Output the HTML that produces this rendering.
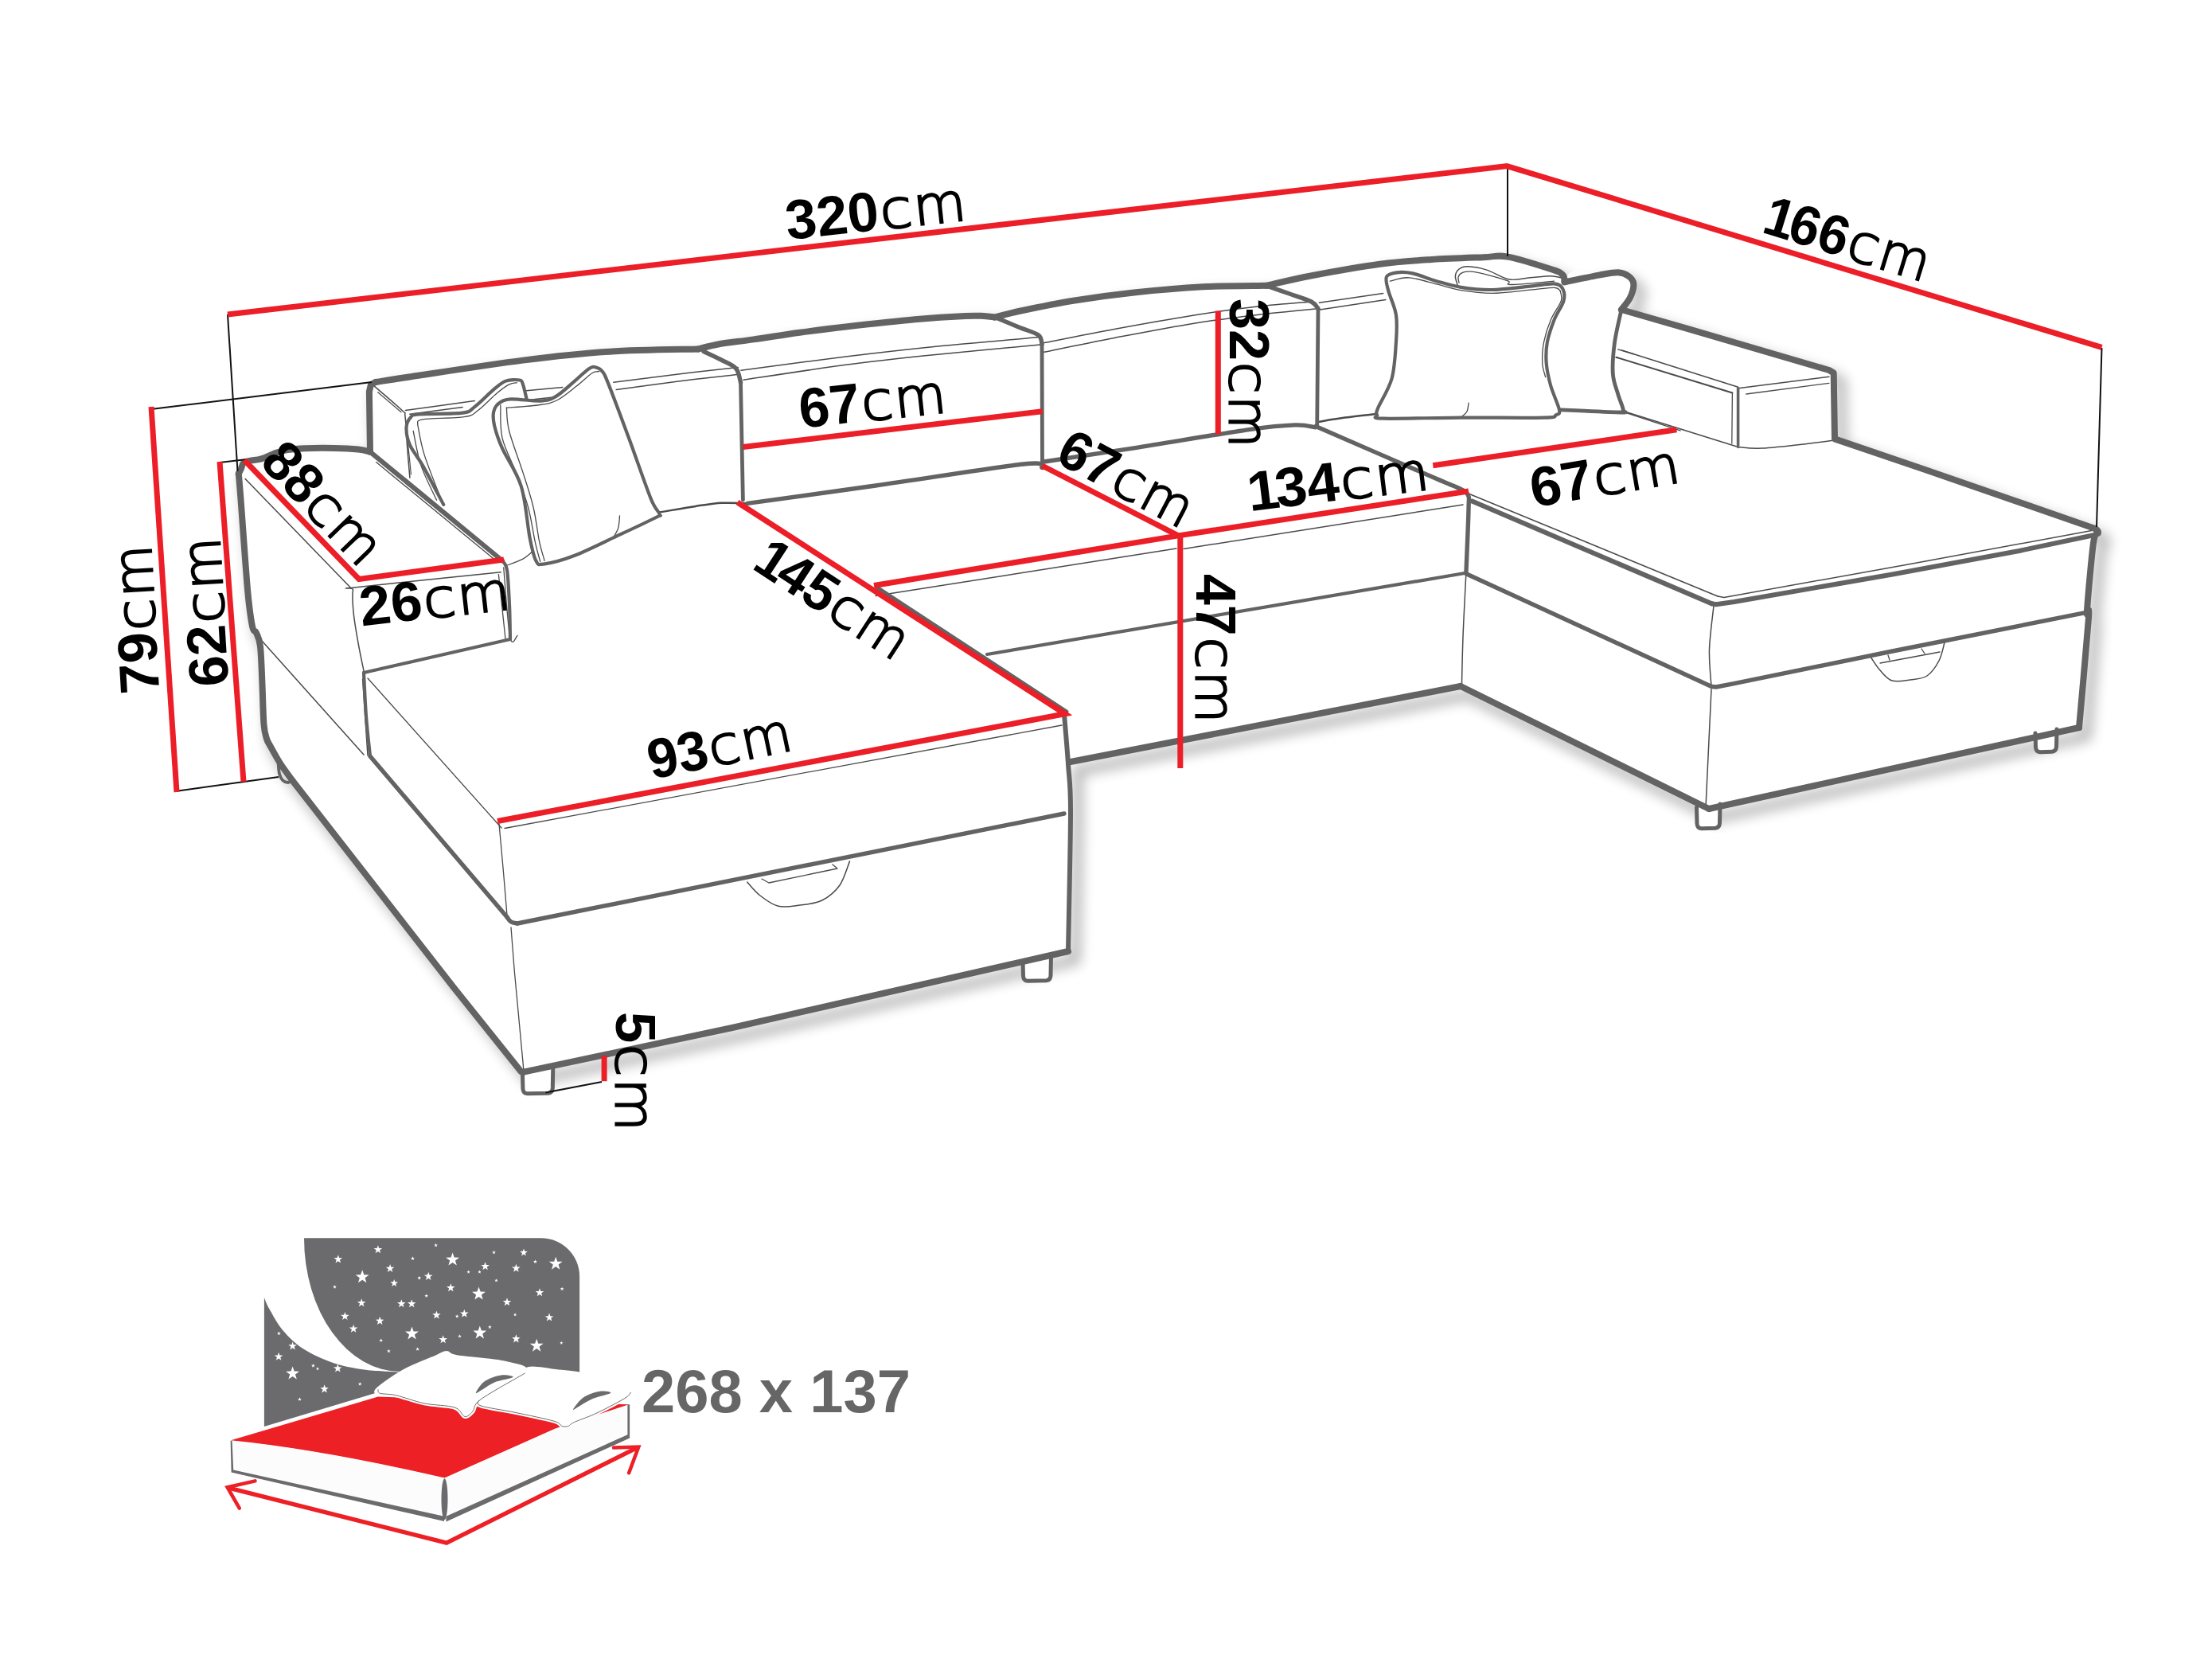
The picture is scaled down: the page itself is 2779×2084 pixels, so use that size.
<!DOCTYPE html>
<html lang="pl"><head><meta charset="utf-8"><title>Wymiary naro&#380;nika</title>
<style>
html,body{margin:0;padding:0;background:#fff}
body{width:2779px;height:2084px;overflow:hidden}
svg{display:block}
.tk{fill:none;stroke:#636363;stroke-linecap:round;stroke-linejoin:round}
.tn{fill:none;stroke:#4a4a4a;stroke-linecap:round;stroke-linejoin:round}
.rd{fill:none;stroke:#ec1e27;stroke-width:7;stroke-linecap:butt;stroke-linejoin:miter}
.bk{fill:none;stroke:#111;stroke-width:2}
.num{font-family:"Liberation Sans",sans-serif;font-weight:700;fill:#000}
.cm{font-family:"DejaVu Sans","Liberation Sans",sans-serif;font-weight:200;fill:#000;stroke:#000;stroke-width:2.2}
.bed{font-family:"Liberation Sans",sans-serif;font-weight:700;fill:#666}
</style></head><body>
<svg width="2779" height="2084" viewBox="0 0 2779 2084">
<defs>
<filter id="sh" x="-5%" y="-5%" width="115%" height="115%"><feGaussianBlur stdDeviation="8"/></filter>
<polygon id="st" points="0,-10 2.35,-3.24 9.51,-3.09 3.8,1.24 5.88,8.09 0,4 -5.88,8.09 -3.8,1.24 -9.51,-3.09 -2.35,-3.24"/>
</defs>
<rect width="2779" height="2084" fill="#fff"/>

<g filter="url(#sh)" opacity="0.27" transform="translate(9,11)" fill="none" stroke="#000" stroke-width="14" stroke-linecap="round" stroke-linejoin="round">
<path d="M367 980 L352.5 959.7 L340 938 L335 928 L331.5 910 L329.5 860 L327 812 L322 795 L317 786.7 L311 740.4 L302.3 624.7 L299.8 595 L302.9 588.9 L305.8 581.7 L313.7 578.8 L323.9 577.4 L332.5 575 L347 568.7 L361.5 565.1 L383.2 563.2 L419.3 562.9 L450 564.5 L465 567.6 L463.9 492 L466 483 L472 480 L516 473.2 L657 452.6 L765.5 441.7 L877.4 438.5 L903.4 432.2 L946.8 426.4 L1004.7 417.7 L1062.5 410.5 L1149.4 401.3 L1213 397 L1236 397 L1250 398.5 L1280 391 L1350 377.5 L1424.7 367.5 L1511.5 360.3 L1591 358.8 L1646.8 346.5 L1733.6 331.8 L1798.7 326 L1863.8 323.2 L1894.2 322.6 L1950.6 338.8 L1963.6 345.5 L1965.5 354.3 L2009 345.6 L2032.8 342.3 L2045.8 346.7 L2052.3 356.4 L2048 373.8 L2037 389 L2120 412.8 L2298 465 L2303.7 468.5 L2305 551.4 L2420 590.5 L2632 664 L2636 669 L2630 682 L2622 767 L2624 776 L2612 914 L2147 1016 L1835 862 L1345 957 L1345 1020 L1342 1195 L920 1291 L657.9 1346.6 Z"/>
</g>
<g fill="#fff" stroke="none">
<path d="M367 980 L352.5 959.7 L340 938 L335 928 L331.5 910 L329.5 860 L327 812 L322 795 L317 786.7 L311 740.4 L302.3 624.7 L299.8 595 L302.9 588.9 L305.8 581.7 L313.7 578.8 L323.9 577.4 L332.5 575 L347 568.7 L361.5 565.1 L383.2 563.2 L419.3 562.9 L450 564.5 L465 567.6 L463.9 492 L466 483 L472 480 L516 473.2 L657 452.6 L765.5 441.7 L877.4 438.5 L903.4 432.2 L946.8 426.4 L1004.7 417.7 L1062.5 410.5 L1149.4 401.3 L1213 397 L1236 397 L1250 398.5 L1280 391 L1350 377.5 L1424.7 367.5 L1511.5 360.3 L1591 358.8 L1646.8 346.5 L1733.6 331.8 L1798.7 326 L1863.8 323.2 L1894.2 322.6 L1950.6 338.8 L1963.6 345.5 L1965.5 354.3 L2009 345.6 L2032.8 342.3 L2045.8 346.7 L2052.3 356.4 L2048 373.8 L2037 389 L2120 412.8 L2298 465 L2303.7 468.5 L2305 551.4 L2420 590.5 L2632 664 L2636 669 L2630 682 L2622 767 L2624 776 L2612 914 L2147 1016 L1835 862 L1345 957 L1345 1020 L1342 1195 L920 1291 L657.9 1346.6 Z"/>
<path d="M557.2 633.8 C535.5 647.9 538.2 597.4 531.1 584.9 C524.1 572.5 518.3 566.8 514.9 558.9 C511.4 550.9 510.3 543 510.5 537.2 C510.7 531.4 513.2 527 516 524.2 C518.7 521.3 516 521.2 526.8 520.3 C537.7 519.4 569.5 520.3 581.1 518.7 C592.6 517.2 589.7 516 596.2 511.1 C602.8 506.3 613.6 494.9 620.1 489.4 C626.6 484 629.9 480.6 635.3 478.6 C640.7 476.6 649.1 476.8 652.7 477.5 C656.3 478.2 655.6 479.1 657 482.9 C658.5 486.7 678 475.2 661.4 500.3 C644.7 525.4 578.9 619.7 557.2 633.8 Z"/>
<path d="M673.3 704.3 C670.4 698.9 668.8 691.6 665.7 676.1 C662.6 660.5 660.6 629.8 654.8 611 C649.1 592.2 636.6 575.9 631 563.2 C625.4 550.6 623 542.6 621.2 535 C619.4 527.4 619.2 522.4 620.1 517.7 C621 513 623 509.5 626.6 506.8 C630.2 504.1 633.1 501.9 641.8 501.4 C650.5 500.8 669.3 504.1 678.7 503.6 C688.1 503 691 502.3 698.2 498.1 C705.5 494 715.2 484.4 722.1 478.6 C729 472.8 735.1 466.3 739.5 463.4 C743.8 460.5 745.3 460.7 748.2 461.2 C751.1 461.8 753.9 462.7 756.8 466.7 C759.7 470.6 759.7 470.5 765.5 485.1 C771.3 499.8 782.9 531 791.6 554.5 C800.2 578.1 811.5 611 817.6 626.2 C823.8 641.4 827.4 641.7 828.5 645.7 C829.5 649.7 832.4 645.7 824.1 650 C815.8 654.4 795.5 663.8 778.5 671.7 C761.5 679.7 738 691.6 722.1 697.8 C706.2 703.9 691.2 707.5 683.1 708.6 C674.9 709.7 676.2 709.7 673.3 704.3 Z"/>
<path d="M1965.5 354.3 C1973.5 326.1 1997.8 347.6 2009 345.6 C2020.2 343.6 2026.7 342.1 2032.8 342.3 C2038.9 342.5 2042.5 344.4 2045.8 346.7 C2049.1 349 2051.9 351.9 2052.3 356.4 C2052.7 360.9 2050.6 368.4 2048 373.8 C2045.5 379.2 2040.2 379.6 2037 389 C2033.8 398.4 2030.3 416.8 2028.5 430.2 C2026.7 443.6 2025.6 458.4 2026.3 469.3 C2027 480.2 2030.6 487.7 2032.8 495.3 C2035 502.9 2038.9 511 2039.3 514.8 C2039.7 518.6 2048 518 2035 518 C2022 518 1972.8 542.1 1961.2 514.8 C1949.6 487.5 1957.5 382.5 1965.5 354.3 Z"/>
<path d="M1742 347.7 C1743.8 343.9 1749.6 343 1755 342.3 C1760.4 341.6 1766.2 341.6 1774.5 343.4 C1782.9 345.2 1794.8 350.3 1804.9 353.2 C1815.1 356.1 1823.7 359 1835.3 360.8 C1846.9 362.6 1859.9 364.2 1874.4 364 C1888.8 363.8 1909.1 360.9 1922.1 359.7 C1935.1 358.4 1945.6 355.9 1952.5 356.4 C1959.4 357 1961.4 359.3 1963.4 362.9 C1965.3 366.6 1966.2 371.6 1964.4 378.1 C1962.6 384.6 1955.9 393.3 1952.5 402 C1949.1 410.7 1945.4 421.2 1943.8 430.2 C1942.2 439.3 1942 447.2 1942.7 456.2 C1943.5 465.3 1945.4 474.7 1948.2 484.5 C1950.9 494.2 1957.9 508.7 1959 514.8 C1960.1 521 1957.9 519.7 1954.7 521.4 C1951.4 523 1959.4 524.1 1939.5 524.6 C1919.6 525.2 1868.9 524.4 1835.3 524.6 C1801.7 524.8 1755.2 526.2 1737.7 525.7 C1720.1 525.2 1731.1 523.5 1730.1 521.4 C1729 519.2 1728.1 520.3 1731.1 512.7 C1734.2 505.1 1744.7 489.5 1748.5 475.8 C1752.3 462 1753 443.6 1753.9 430.2 C1754.8 416.8 1755.6 406.3 1753.9 395.5 C1752.3 384.6 1746.2 373.1 1744.2 365.1 C1742.2 357.1 1740.2 351.5 1742 347.7 Z"/>
</g>
<path class="tn" stroke-width="1.3" d="M636.4 512.2 C643.5 511.6 668 510.2 678.7 508.5 C689.4 506.9 692.8 506.4 700.4 502.5 C708 498.6 717.1 490.7 724.3 485.1 C731.5 479.5 739.1 471.9 743.8 468.8 C748.5 465.8 751.1 467 752.5 466.7"/>
<path class="tn" stroke-width="1.3" d="M636.4 512.2 C636.9 517.1 636.2 528 639.7 541.5 C643.1 555.1 652 577.7 657 593.6 C662.1 609.5 666.6 622.5 670 637 C673.5 651.5 675.3 669.2 677.6 680.4 C680 691.6 683.1 700.3 684.1 704.3"/>
<path class="tn" stroke-width="1.3" d="M628.8 509 C629.2 515.8 627.7 536.1 631 550.2 C634.2 564.3 642.9 579.1 648.3 593.6 C653.8 608.1 659.5 622.5 663.5 637 C667.5 651.5 669.7 669 672.2 680.4 C674.7 691.8 677.6 701.2 678.7 705.4"/>
<path class="tn" stroke-width="1.3" d="M778.5 647.9 C778.3 650.4 777.9 658.9 776.8 663.1 C775.7 667.2 772.8 671.2 772 672.8"/>
<path class="tn" stroke-width="1.3" d="M524.6 532.8 C525.7 531.8 521.4 528.3 531.1 526.8 C540.9 525.3 571.7 525.6 583.2 523.7 C594.8 521.9 593.7 520.5 600.6 515.5 C607.5 510.5 618 499.2 624.5 493.8 C631 488.4 635.5 485.1 639.7 482.9 C643.8 480.8 647.8 481.1 649.4 480.8"/>
<path class="tn" stroke-width="1.3" d="M524.6 532.8 C526.1 539.4 527.9 554.9 533.3 571.9 C538.7 588.9 553.2 624.4 557.2 634.8"/>
<path class="tn" stroke-width="1.3" d="M519.2 541.5 C520.8 548.8 524.1 570.5 529 584.9 C533.9 599.4 545.3 621.1 548.5 628.3"/>
<path class="tn" stroke-width="1.5" d="M470.4 485.1 C476.2 490.2 498.7 509.2 505.1 515.5 C511.5 521.8 507.9 515.5 509 523.1 C510.1 530.7 510.6 548.2 511.6 561.1 C512.6 573.9 514.3 593.6 514.9 600.1"/>
<path class="tn" stroke-width="1.2" d="M474.7 492.7 L504 517.7"/>
<path class="tn" stroke-width="1.2" d="M512.7 558.9 L516.4 595.8"/>
<path class="tn" stroke-width="1.5" d="M509.4 515.5 L596.2 503.6"/>
<path class="tn" stroke-width="1.5" d="M514.9 520.3 L581.1 511.6"/>
<path class="tn" stroke-width="1.5" d="M661.4 490.7 L706.9 486.4"/>
<path class="tn" stroke-width="1.5" d="M663.5 502.5 L692.8 499.2"/>
<path class="tn" stroke-width="1.5" d="M770.9 480.3 C784.5 478.6 827.5 472.9 852.3 469.9 C877.2 466.9 907.7 463.7 920 462.3 C932.3 460.9 925.1 461.6 926.1 461.4"/>
<path class="tn" stroke-width="1.5" d="M774.2 489.4 C787.2 487.7 828 482.1 852.3 479 C876.6 476 907.4 472.7 920 471.2 C932.7 469.8 926.9 470.5 928.3 470.3"/>
<path class="tn" stroke-width="2.5" d="M828.5 643.5 C836.1 642.3 861 637.9 874 635.9 C887 634 896.1 632.4 906.6 631.8 C917.1 631.2 931.9 632.2 937 632.2"/>
<path class="tn" stroke-width="1.3" d="M635.3 710.8 C638.9 709.4 651.6 704.9 657 702.1 C662.4 699.3 666.1 695.2 667.9 693.9"/>
<path class="tn" stroke-width="1.3" d="M472.6 580.6 L624.5 705.4"/>
<path class="tn" stroke-width="1.5" d="M308.1 601.5 L441.2 739"/>
<path class="tn" stroke-width="1.5" d="M629.3 718.7 C599.4 721.8 480.8 733.8 449.9 737.5 C418.9 741.3 444.5 736 443.5 741.3 C442.5 746.6 443 758.4 444.1 769.4 C445.1 780.3 447.7 794.7 449.9 807 C452 819.3 455.9 837.1 457.1 843.1"/>
<path class="tn" stroke-width="1.3" d="M626.4 721.6 L635 802.6"/>
<path class="tn" stroke-width="1.3" d="M632.7 712.9 C634.1 727.5 637.9 786.4 640.8 800.6 C643.7 814.8 648.5 798.7 650.1 798.3"/>
<path class="tn" stroke-width="1.5" d="M325 800.5 L457 948"/>
<path class="tn" stroke-width="1.5" d="M455.6 853 L462 949"/>
<path class="tn" stroke-width="1.3" d="M642 1165 L646.3 1220 L657.9 1344.4"/>
<path class="tn" stroke-width="1.3" d="M627 1035 C627.8 1044.2 630.3 1070.8 632 1090 C633.7 1109.2 636.2 1140 637 1150"/>
<path class="tn" stroke-width="1.3" d="M462 852 L630 1040"/>
<path class="tn" stroke-width="1.3" d="M634 1040.5 L1334 911"/>
<path class="tn" stroke-width="1.5" d="M938.7 1108 C941.4 1110.8 948.5 1120 955 1125 C961.5 1130 969.5 1136.3 977.8 1138.3 C986.1 1140.3 995.8 1138.2 1005 1137 C1014.2 1135.8 1024.5 1135.2 1032.8 1131 C1041.1 1126.8 1049.2 1120.2 1055 1112 C1060.8 1103.8 1065.4 1086.9 1067.5 1081.9"/>
<path class="tn" stroke-width="1.3" d="M957 1104 L966 1109 L1052 1091 L1046 1086"/>
<path class="tn" stroke-width="1.5" d="M2350 825 C2352 827.8 2357.5 837 2362 842 C2366.5 847 2370.7 853 2377 855 C2383.3 857 2392.7 855 2400 854 C2407.3 853 2415 853 2421 849 C2427 845 2432.3 837 2436 830 C2439.7 823 2441.8 810.8 2443 807"/>
<path class="tn" stroke-width="1.3" d="M2362 833 L2437 819"/>
<path class="tn" stroke-width="1.3" d="M2372 823 L2374 829"/>
<path class="tn" stroke-width="1.3" d="M2414 815 L2418 821"/>
<path class="tn" stroke-width="1.5" d="M2183.6 487.7 L2297.9 473.3"/>
<path class="tn" stroke-width="1.3" d="M2193.8 495 L2297.9 481.4"/>
<path class="tn" stroke-width="1.5" d="M2183.6 561.5 C2188.7 561.8 2199.3 563.7 2214 563 C2228.7 562.3 2256.7 558.9 2271.9 557.2 C2287.1 555.5 2299.6 553.6 2305.2 552.8"/>
<path class="tn" stroke-width="2" d="M2030.3 448.7 L2176.4 493.5"/>
<path class="tn" stroke-width="1.5" d="M2037.5 440 L2183.6 486.3"/>
<path class="tn" stroke-width="1.3" d="M2176.4 493.5 L2175.8 557.2"/>
<path class="tn" stroke-width="1.5" d="M2040.4 516.7 L2183.6 561.5"/>
<path class="tn" stroke-width="1.5" d="M2032.8 438.9 L2052.3 444.7"/>
<path class="tn" stroke-width="1.5" d="M2041.5 518.1 L2110.9 540.9"/>
<path class="tn" stroke-width="1.3" d="M1746.3 353.2 C1750.3 352.4 1760.4 348.2 1770.2 348.8 C1780 349.4 1794.1 354.2 1804.9 356.9 C1815.8 359.5 1823.7 362.8 1835.3 364.7 C1846.9 366.6 1859.9 368.4 1874.4 368.4 C1888.8 368.3 1909.1 365.4 1922.1 364.2 C1935.1 363.1 1946.2 361.3 1952.5 361.4 C1958.8 361.6 1958.8 364.5 1960.1 365.1"/>
<path class="tn" stroke-width="1.3" d="M1960.1 365.1 C1960.3 367.3 1963.2 372 1961.2 378.1 C1959.2 384.3 1951.8 393.3 1948.2 402 C1944.5 410.7 1941.2 421.2 1939.5 430.2 C1937.7 439.3 1937.4 449 1937.7 456.2 C1938.1 463.5 1941 470.7 1941.6 473.6"/>
<path class="tn" stroke-width="1.3" d="M1845.1 506.2 C1844.7 508 1844.4 514.1 1842.9 517 C1841.5 519.9 1837.5 522.4 1836.4 523.5"/>
<path class="tn" stroke-width="1.5" d="M1831 357.5 C1830.5 355.7 1828 349.9 1828.4 346.7 C1828.7 343.4 1830.5 340 1833.1 338 C1835.7 336 1838.2 334.5 1844 334.7 C1849.8 334.9 1859.2 336.3 1867.9 339.1 C1876.5 341.8 1887 349.4 1896.1 351 C1905.1 352.6 1913.4 349.6 1922.1 348.8 C1930.8 348.1 1941.6 346.7 1948.2 346.7 C1954.7 346.7 1959 348.5 1961.2 348.8"/>
<path class="tn" stroke-width="1.3" d="M1833.1 355.3 C1833 354.1 1831.3 349.9 1832.1 347.7 C1832.8 345.6 1834.8 343.4 1837.5 342.3 C1840.2 341.2 1842.9 340.7 1848.3 341.2 C1853.8 341.8 1862.3 343.6 1870 345.6 C1877.8 347.6 1890.3 351.2 1895 353.2 C1899.7 355.2 1888.7 357.5 1898.2 357.5 C1907.8 357.5 1943.5 353.9 1952.5 353.2"/>
<path class="tn" stroke-width="1.5" d="M1657.4 380.3 L1737.7 368.4"/>
<path class="tn" stroke-width="1.5" d="M1658.4 389 L1740.9 376.4"/>
<path class="tn" stroke-width="2.5" d="M1655.2 530 C1661 529.1 1678 526.2 1689.9 524.6 C1701.8 523 1720.7 521 1726.8 520.3"/>
<path class="tn" stroke-width="1.5" d="M1846 620.5 L2158 749"/>
<path class="tn" stroke-width="1.5" d="M2158 749 L2166 750.5 L2400 708.5 L2628 666.5"/>
<path class="tn" stroke-width="1.5" d="M2153 761 C2152.1 770.2 2148 799.1 2147.5 816 C2147 832.9 2149.6 854.8 2150 862.5"/>
<path class="tn" stroke-width="1.5" d="M2150 866 L2143 1014"/>
<path class="tn" stroke-width="1.5" d="M1842 717.8 C1841.3 731.5 1838.9 775.9 1838 800 C1837.1 824.1 1836.7 852.1 1836.4 862.5"/>
<path class="tn" stroke-width="1.5" d="M1100 748.5 L1478 689"/>
<path class="tn" stroke-width="1.5" d="M1487 689.5 L1838 634"/>
<path class="tn" stroke-width="1.5" d="M931 465.3 C952.9 462.4 1021.3 453.1 1062.5 448.1 C1103.7 443.1 1137.7 439.2 1178.3 435.1 C1218.9 431 1284.7 425.4 1306 423.5"/>
<path class="tn" stroke-width="1.5" d="M934 477.3 C955.4 474.1 1021.8 463.7 1062.5 458.3 C1103.2 452.9 1137.5 449.4 1178.3 445.2 C1219 441 1285.5 435.1 1307 433.1"/>
<path class="tn" stroke-width="1.5" d="M1311.4 430.8 C1326.2 427.9 1368.6 419.3 1400 413.5 C1431.4 407.7 1470 400.8 1500 396 C1530 391.2 1555.3 387.8 1580 385 C1604.7 382.2 1636.7 380 1648 379"/>
<path class="tn" stroke-width="1.5" d="M1311.4 442.3 C1326.2 439.3 1368.6 430.5 1400 424.5 C1431.4 418.5 1470 411 1500 406.2 C1530 401.4 1554.5 398.5 1580 395.5 C1605.5 392.5 1640.8 389.2 1653 388"/>
<path d="M656.4 1347 L656.9 1367.5 Q657.2 1373.5 662.4 1373.8 L688.8 1373.2 Q694 1372.9 694.3 1366.9 L694.8 1340" fill="#fff" stroke="#636363" stroke-width="5" stroke-linejoin="round" stroke-linecap="round"/>
<path d="M1285 1207 L1285.5 1226 Q1285.8 1232 1291 1232.3 L1314.5 1231.7 Q1319.7 1231.4 1320 1225.4 L1320.5 1199" fill="#fff" stroke="#636363" stroke-width="5" stroke-linejoin="round" stroke-linecap="round"/>
<path d="M2131.5 1014 L2132 1034.5 Q2132.3 1040.5 2137.5 1040.8 L2155 1040.2 Q2160.2 1039.9 2160.5 1033.9 L2161 1010" fill="#fff" stroke="#636363" stroke-width="5" stroke-linejoin="round" stroke-linecap="round"/>
<path d="M2557 921 L2557.5 938.5 Q2557.8 944.5 2563 944.8 L2578 944.2 Q2583.2 943.9 2583.5 937.9 L2584 916" fill="#fff" stroke="#636363" stroke-width="5" stroke-linejoin="round" stroke-linecap="round"/>
<path class="tk" stroke-width="8" d="M367 980 C364.6 976.6 357 966.7 352.5 959.7 C348 952.7 342.9 943.3 340 938 C337.1 932.7 336.4 932.7 335 928 C333.6 923.3 332.4 921.3 331.5 910 C330.6 898.7 330.2 876.3 329.5 860 C328.8 843.7 328.2 822.8 327 812 C325.8 801.2 323.7 799.2 322 795 C320.3 790.8 318.8 795.8 317 786.7 C315.2 777.6 313.4 767.4 311 740.4 C308.6 713.4 304.2 648.9 302.3 624.7 C300.4 600.5 300.2 600 299.8 595"/>
<path class="tk" stroke-width="8" d="M299.8 595 C300.3 594 301.9 591.1 302.9 588.9 C303.9 586.7 304 583.4 305.8 581.7 C307.6 580 310.7 579.5 313.7 578.8 C316.7 578.1 320.8 578 323.9 577.4 C327 576.8 328.6 576.5 332.5 575 C336.4 573.5 342.2 570.4 347 568.7 C351.8 567.1 355.5 566 361.5 565.1 C367.5 564.2 373.6 563.6 383.2 563.2 C392.8 562.8 408.2 562.7 419.3 562.9 C430.4 563.1 442.4 563.7 450 564.5 C457.6 565.3 462.5 567.1 465 567.6"/>
<path class="tk" stroke-width="8" d="M465 567.6 L463.9 492 L466 483 L472 480"/>
<path class="tk" stroke-width="8" d="M472 480 C479.3 478.9 485.2 477.8 516 473.2 C546.8 468.6 615.4 457.9 657 452.6 C698.6 447.4 728.8 444.1 765.5 441.7 C802.2 439.3 858.8 439 877.4 438.5"/>
<path class="tk" stroke-width="8" d="M877.4 438.5 C881.7 437.4 891.8 434.2 903.4 432.2 C915 430.2 929.9 428.8 946.8 426.4 C963.7 424 985.4 420.3 1004.7 417.7 C1024 415.1 1038.4 413.2 1062.5 410.5 C1086.6 407.8 1124.3 403.6 1149.4 401.3 C1174.5 399.1 1198.6 397.7 1213 397 C1227.4 396.3 1229.8 396.8 1236 397 C1242.2 397.2 1247.7 398.2 1250 398.5"/>
<path class="tk" stroke-width="8" d="M1250 398.5 C1255 397.2 1263.3 394.5 1280 391 C1296.7 387.5 1325.9 381.4 1350 377.5 C1374.1 373.6 1397.8 370.4 1424.7 367.5 C1451.6 364.6 1483.8 361.8 1511.5 360.3 C1539.2 358.9 1577.8 359.1 1591 358.8"/>
<path class="tk" stroke-width="8" d="M1591 358.8 C1600.3 356.8 1623 351 1646.8 346.5 C1670.6 342 1708.3 335.2 1733.6 331.8 C1758.9 328.4 1777 327.4 1798.7 326 C1820.4 324.6 1847.9 323.8 1863.8 323.2 C1879.7 322.6 1879.7 320 1894.2 322.6 C1908.7 325.2 1939 335 1950.6 338.8 C1962.2 342.6 1961.1 342.9 1963.6 345.5 C1966.1 348.1 1965.2 352.8 1965.5 354.3"/>
<path class="tk" stroke-width="8" d="M1965.5 354.3 C1972.8 352.9 1997.8 347.6 2009 345.6 C2020.2 343.6 2026.7 342.1 2032.8 342.3 C2038.9 342.5 2042.5 344.4 2045.8 346.7 C2049.1 349 2051.9 351.9 2052.3 356.4 C2052.7 360.9 2050.6 368.4 2048 373.8 C2045.5 379.2 2038.8 386.5 2037 389"/>
<path class="tk" stroke-width="8" d="M2037 389 L2120 412.8 L2298 465 L2303.7 468.5 L2305 551.4 L2420 590.5 L2632 664"/>
<path class="tk" stroke-width="8" d="M2632 664 C2632.7 664.8 2636.3 666 2636 669 C2635.7 672 2632.3 665.7 2630 682 C2627.7 698.3 2623 751.3 2622 767 C2621 782.7 2625.7 751.5 2624 776 C2622.3 800.5 2614 891 2612 914"/>
<path class="tk" stroke-width="8" d="M2612 914 L2147 1016"/>
<path class="tk" stroke-width="8" d="M2147 1016 L1835 862"/>
<path class="tk" stroke-width="8" d="M1835 862 L1345 957"/>
<path class="tk" stroke-width="6" d="M1337 897 C1337.8 907.5 1340.7 939.5 1342 960 C1343.3 980.5 1345 980.8 1345 1020 C1345 1059.2 1342.5 1165.8 1342 1195"/>
<path class="tk" stroke-width="8" d="M1342 1195 L920 1291 L657.9 1346.6"/>
<path class="tk" stroke-width="8" d="M657.9 1346.6 L654.5 1346 L569.6 1240 L367 980"/>
<path class="tk" stroke-width="6" d="M465 567.6 L631 704.3"/>
<path class="tk" stroke-width="4.2" d="M631 704.3 C632 706.2 635.5 706.7 637 716 C638.5 725.3 639.3 745.5 640 760 C640.7 774.5 640.8 795.8 641 803"/>
<path class="tk" stroke-width="4" d="M457 845 L641 803"/>
<path class="tk" stroke-width="4.2" d="M457 845 C457.5 854.2 458.7 882.5 460 900 C461.3 917.5 464.2 941.7 465 950"/>
<path class="tk" stroke-width="5.4" d="M465 950 L637 1152"/>
<path class="tk" stroke-width="5.4" d="M637 1152 C637.8 1153 639.8 1156.7 642 1158 C644.2 1159.3 648.7 1159.7 650 1160"/>
<path class="tk" stroke-width="5.4" d="M650 1160 L1337 1022"/>
<path class="tk" stroke-width="4.8" d="M1102 738 L1340 894"/>
<path class="tk" stroke-width="5.4" d="M884 441.5 C887.7 443.2 899.2 448.4 906 452 C912.8 455.6 920.6 458.2 924.7 463 C928.8 467.8 929.5 477.6 930.5 480.5"/>
<path class="tk" stroke-width="4.8" d="M930.5 480.5 L933.4 628"/>
<path class="tk" stroke-width="5.4" d="M1250 398.5 C1255 400.6 1270.9 407.2 1280 411 C1289.1 414.8 1299.8 417.4 1304.6 421 C1309.4 424.6 1308.3 430.7 1309 432.6"/>
<path class="tk" stroke-width="4.8" d="M1309 432.6 L1309.5 584.7"/>
<path class="tk" stroke-width="5.4" d="M1591 359 C1595.8 360.7 1610.6 365.7 1620 369 C1629.4 372.3 1641.5 375.9 1647.5 379 C1653.5 382.1 1654.6 386.2 1656 387.7"/>
<path class="tk" stroke-width="4.8" d="M1656 387.7 L1654.7 534"/>
<path class="tk" stroke-width="5.4" d="M939 632.4 C965.8 628.7 1042.2 618.2 1100 610 C1157.8 601.8 1251.1 586.7 1286 583 C1320.9 579.3 1305.6 586.8 1309.5 587.6"/>
<path class="tk" stroke-width="5.4" d="M1311.8 580 C1330.6 577.1 1381.8 569.5 1424.7 562.8 C1467.6 556.1 1535.7 544.4 1569.4 539.6 C1603.1 534.8 1613.1 534.4 1627 533.9 C1640.9 533.4 1648.7 536.3 1653 536.8"/>
<path class="tk" stroke-width="5.4" d="M1653 535.5 C1678.3 546.5 1775.3 588.8 1805 601.6 C1834.7 614.4 1824.5 609.2 1831 612.5 C1837.5 615.8 1841.7 616.6 1844 621.2 C1846.3 625.8 1845.3 623.9 1845 640 C1844.7 656.1 1842.5 704.8 1842 717.8"/>
<path class="tk" stroke-width="4.2" d="M1240 822 L1840 720"/>
<path class="tk" stroke-width="6" d="M1849.4 629.5 L2150.4 758.3"/>
<path class="tk" stroke-width="6" d="M2150.4 758.3 L2156 759.3 L2178.6 756 L2377.5 721.5 L2536.7 692 L2629 672.5"/>
<path class="tk" stroke-width="5.4" d="M1842 720.7 L2150.4 862.5"/>
<path class="tk" stroke-width="5.4" d="M2150.4 862.5 L2156 863 L2178.6 858.7 L2377.5 818 L2622.3 769.1"/>
<path class="tk" stroke-width="4.2" d="M557.2 633.8 C552.8 625.6 538.2 597.4 531.1 584.9 C524.1 572.5 518.3 566.8 514.9 558.9 C511.4 550.9 510.3 543 510.5 537.2 C510.7 531.4 513.2 527 516 524.2 C518.7 521.3 516 521.2 526.8 520.3 C537.7 519.4 569.5 520.3 581.1 518.7 C592.6 517.2 589.7 516 596.2 511.1 C602.8 506.3 613.6 494.9 620.1 489.4 C626.6 484 629.9 480.6 635.3 478.6 C640.7 476.6 649.1 476.8 652.7 477.5 C656.3 478.2 655.6 479.1 657 482.9 C658.5 486.7 660.6 497.4 661.4 500.3"/>
<path class="tk" stroke-width="4.2" d="M673.3 704.3 C670.4 698.9 668.8 691.6 665.7 676.1 C662.6 660.5 660.6 629.8 654.8 611 C649.1 592.2 636.6 575.9 631 563.2 C625.4 550.6 623 542.6 621.2 535 C619.4 527.4 619.2 522.4 620.1 517.7 C621 513 623 509.5 626.6 506.8 C630.2 504.1 633.1 501.9 641.8 501.4 C650.5 500.8 669.3 504.1 678.7 503.6 C688.1 503 691 502.3 698.2 498.1 C705.5 494 715.2 484.4 722.1 478.6 C729 472.8 735.1 466.3 739.5 463.4 C743.8 460.5 745.3 460.7 748.2 461.2 C751.1 461.8 753.9 462.7 756.8 466.7 C759.7 470.6 759.7 470.5 765.5 485.1 C771.3 499.8 782.9 531 791.6 554.5 C800.2 578.1 811.5 611 817.6 626.2 C823.8 641.4 827.4 641.7 828.5 645.7 C829.5 649.7 832.4 645.7 824.1 650 C815.8 654.4 795.5 663.8 778.5 671.7 C761.5 679.7 738 691.6 722.1 697.8 C706.2 703.9 691.2 707.5 683.1 708.6 C674.9 709.7 676.2 709.7 673.3 704.3 Z"/>
<path class="tk" stroke-width="3.8" d="M349.7 959.7 C349.9 961.8 350.1 968.6 351 972 C351.9 975.4 353.2 978.2 355 980 C356.8 981.8 360 983 362 983 C364 983 366.2 980.5 367 980"/>
<path class="tk" stroke-width="3.6" d="M2183.6 487.7 L2183.6 561.5"/>
<path class="tk" stroke-width="4.8" d="M2037 389 C2035.6 395.9 2030.3 416.8 2028.5 430.2 C2026.7 443.6 2025.6 458.4 2026.3 469.3 C2027 480.2 2030.6 487.7 2032.8 495.3 C2035 502.9 2038.9 511 2039.3 514.8 C2039.7 518.6 2048 518 2035 518 C2022 518 1973.5 515.3 1961.2 514.8"/>
<path class="tk" stroke-width="4.2" d="M1742 347.7 C1743.8 343.9 1749.6 343 1755 342.3 C1760.4 341.6 1766.2 341.6 1774.5 343.4 C1782.9 345.2 1794.8 350.3 1804.9 353.2 C1815.1 356.1 1823.7 359 1835.3 360.8 C1846.9 362.6 1859.9 364.2 1874.4 364 C1888.8 363.8 1909.1 360.9 1922.1 359.7 C1935.1 358.4 1945.6 355.9 1952.5 356.4 C1959.4 357 1961.4 359.3 1963.4 362.9 C1965.3 366.6 1966.2 371.6 1964.4 378.1 C1962.6 384.6 1955.9 393.3 1952.5 402 C1949.1 410.7 1945.4 421.2 1943.8 430.2 C1942.2 439.3 1942 447.2 1942.7 456.2 C1943.5 465.3 1945.4 474.7 1948.2 484.5 C1950.9 494.2 1957.9 508.7 1959 514.8 C1960.1 521 1957.9 519.7 1954.7 521.4 C1951.4 523 1959.4 524.1 1939.5 524.6 C1919.6 525.2 1868.9 524.4 1835.3 524.6 C1801.7 524.8 1755.2 526.2 1737.7 525.7 C1720.1 525.2 1731.1 523.5 1730.1 521.4 C1729 519.2 1728.1 520.3 1731.1 512.7 C1734.2 505.1 1744.7 489.5 1748.5 475.8 C1752.3 462 1753 443.6 1753.9 430.2 C1754.8 416.8 1755.6 406.3 1753.9 395.5 C1752.3 384.6 1746.2 373.1 1744.2 365.1 C1742.2 357.1 1740.2 351.5 1742 347.7 Z"/>
<path class="bk" d="M286 395 L298.5 592"/>
<path class="bk" d="M190 514 L467 480"/>
<path class="bk" d="M276 581 L310 577"/>
<path class="bk" d="M1894 209 L1894 322"/>
<path class="bk" d="M2640.5 437 L2634 662"/>
<path class="bk" d="M220 994 L350 976"/>
<path class="bk" d="M685.4 1372.6 L756 1358.9"/>
<path class="rd" d="M286 395 L1894 208.5"/>
<path class="rd" d="M1892.5 208.3 L2640.5 436.4"/>
<path class="rd" d="M190 511 L222 995"/>
<path class="rd" d="M276 580 L306 982"/>
<path class="rd" d="M307 578 L451 727.5 L633 703"/>
<path class="rd" d="M926.5 631 L1338 896.8 L625 1031.5"/>
<path class="rd" d="M1098 735.5 L1480.3 672.9 L1845 617"/>
<path class="rd" d="M1309.4 585 L1480.3 672.9"/>
<path class="rd" d="M1482.8 670 L1482.8 965"/>
<path class="rd" d="M933.4 561.5 L1309.5 516.7"/>
<path class="rd" d="M1530.3 390.6 L1530.3 545.4"/>
<path class="rd" d="M1800.3 584.7 L2106.4 539.8"/>
<path class="rd" d="M759.1 1326.3 L759.1 1358.2"/>
<g transform="translate(992 301) rotate(-6.3) scale(1.005 1)"><text x="-2.5" y="0" class="num" font-size="70">320<tspan class="cm" font-size="67.2" dx="1.5" textLength="40.5" lengthAdjust="spacingAndGlyphs">c</tspan><tspan class="cm" font-size="67.2" dx="2">m</tspan></text></g>
<g transform="translate(2215.2 292.3) rotate(17.1) scale(0.970 1)"><text x="-4" y="0" class="num" font-size="70"><tspan letter-spacing="-5">1</tspan>66<tspan class="cm" font-size="67.2" dx="1.5" textLength="40.5" lengthAdjust="spacingAndGlyphs">c</tspan><tspan class="cm" font-size="67.2" dx="2">m</tspan></text></g>
<g transform="translate(200 868) rotate(-93.3) scale(1.000 1)"><text x="-2.5" y="0" class="num" font-size="70">79<tspan class="cm" font-size="67.2" dx="1.5" textLength="40.5" lengthAdjust="spacingAndGlyphs">c</tspan><tspan class="cm" font-size="67.2" dx="2">m</tspan></text></g>
<g transform="translate(287 858.5) rotate(-93.5) scale(1.000 1)"><text x="-2.5" y="0" class="num" font-size="70">62<tspan class="cm" font-size="67.2" dx="1.5" textLength="40.5" lengthAdjust="spacingAndGlyphs">c</tspan><tspan class="cm" font-size="67.2" dx="2">m</tspan></text></g>
<g transform="translate(326.5 584) rotate(46) scale(0.980 1)"><text x="-2.5" y="0" class="num" font-size="70">88<tspan class="cm" font-size="67.2" dx="1.5" textLength="40.5" lengthAdjust="spacingAndGlyphs">c</tspan><tspan class="cm" font-size="67.2" dx="2">m</tspan></text></g>
<g transform="translate(456.7 786.1) rotate(-6.5) scale(1.014 1)"><text x="-2.5" y="0" class="num" font-size="70">26<tspan class="cm" font-size="67.2" dx="1.5" textLength="40.5" lengthAdjust="spacingAndGlyphs">c</tspan><tspan class="cm" font-size="67.2" dx="2">m</tspan></text></g>
<g transform="translate(946.3 715.3) rotate(33.1) scale(0.976 1)"><text x="-4" y="0" class="num" font-size="70"><tspan letter-spacing="-5">1</tspan>45<tspan class="cm" font-size="67.2" dx="1.5" textLength="40.5" lengthAdjust="spacingAndGlyphs">c</tspan><tspan class="cm" font-size="67.2" dx="2">m</tspan></text></g>
<g transform="translate(821.5 978.5) rotate(-11.8) scale(0.975 1)"><text x="-2.5" y="0" class="num" font-size="70">93<tspan class="cm" font-size="67.2" dx="1.5" textLength="40.5" lengthAdjust="spacingAndGlyphs">c</tspan><tspan class="cm" font-size="67.2" dx="2">m</tspan></text></g>
<g transform="translate(1008.6 537.5) rotate(-6.2) scale(0.990 1)"><text x="-2.5" y="0" class="num" font-size="70">67<tspan class="cm" font-size="67.2" dx="1.5" textLength="40.5" lengthAdjust="spacingAndGlyphs">c</tspan><tspan class="cm" font-size="67.2" dx="2">m</tspan></text></g>
<g transform="translate(1325.8 580.6) rotate(27.9) scale(0.970 1)"><text x="-2.5" y="0" class="num" font-size="70">67<tspan class="cm" font-size="67.2" dx="1.5" textLength="40.5" lengthAdjust="spacingAndGlyphs">c</tspan><tspan class="cm" font-size="67.2" dx="2">m</tspan></text></g>
<g transform="translate(1574 641.8) rotate(-7) scale(1.035 1)"><text x="-4" y="0" class="num" font-size="70"><tspan letter-spacing="-5">1</tspan>34<tspan class="cm" font-size="67.2" dx="1.5" textLength="40.5" lengthAdjust="spacingAndGlyphs">c</tspan><tspan class="cm" font-size="67.2" dx="2">m</tspan></text></g>
<g transform="translate(1929 637) rotate(-9.8) scale(1.010 1)"><text x="-2.5" y="0" class="num" font-size="70">67<tspan class="cm" font-size="67.2" dx="1.5" textLength="40.5" lengthAdjust="spacingAndGlyphs">c</tspan><tspan class="cm" font-size="67.2" dx="2">m</tspan></text></g>
<g transform="translate(1544.8 377.6) rotate(90) scale(1.000 1)"><text x="-2.5" y="0" class="num" font-size="70">32<tspan class="cm" font-size="67.2" dx="1.5" textLength="40.5" lengthAdjust="spacingAndGlyphs">c</tspan><tspan class="cm" font-size="67.2" dx="2">m</tspan></text></g>
<g transform="translate(1502.8 723.4) rotate(90) scale(1.000 1)"><text x="-2.5" y="0" class="num" font-size="70">47<tspan class="cm" font-size="67.2" dx="1.5" textLength="40.5" lengthAdjust="spacingAndGlyphs">c</tspan><tspan class="cm" font-size="67.2" dx="2">m</tspan></text></g>
<g transform="translate(774 1273.5) rotate(90) scale(1.010 1)"><text x="-2.5" y="0" class="num" font-size="70">5<tspan class="cm" font-size="67.2" dx="1.5" textLength="40.5" lengthAdjust="spacingAndGlyphs">c</tspan><tspan class="cm" font-size="67.2" dx="2">m</tspan></text></g>
<path d="M382 1555.3 L680 1555.3 A48.1 48.1 0 0 1 728.1 1603.4 L728.1 1732.5 L528.1 1762.5 L502.8 1722.9 A120.8 167.6 0 0 1 382 1555.3 Z" fill="#6b6b6d"/>
<path d="M331.9 1630 C333 1632.3 334.2 1637 338.2 1643.9 C342.2 1650.9 348.8 1663.3 355.9 1671.8 C363.1 1680.2 370.7 1687.8 381.3 1694.6 C391.8 1701.3 406.6 1708 419.2 1712.3 C431.9 1716.6 443.7 1718.5 457.2 1720.4 C470.7 1722.2 493.1 1722.9 500.3 1723.4 L533.2 1732.5 L472.4 1749.7 L331.9 1792 Z" fill="#6b6b6d"/>
<g fill="#fff">
<use href="#st" transform="translate(474.9 1569.7) scale(0.557)"/>
<use href="#st" transform="translate(424.8 1581.9) scale(0.557)"/>
<use href="#st" transform="translate(547.6 1564.2) scale(0.253)"/>
<use href="#st" transform="translate(518.5 1580.9) scale(0.253)"/>
<use href="#st" transform="translate(568.6 1582.4) scale(0.886)"/>
<use href="#st" transform="translate(620.5 1573.3) scale(0.253)"/>
<use href="#st" transform="translate(658 1573.5) scale(0.506)"/>
<use href="#st" transform="translate(672.4 1584.9) scale(0.253)"/>
<use href="#st" transform="translate(698.2 1587.5) scale(0.886)"/>
<use href="#st" transform="translate(490.1 1593.5) scale(0.557)"/>
<use href="#st" transform="translate(609.6 1590.8) scale(0.557)"/>
<use href="#st" transform="translate(648.4 1593.3) scale(0.557)"/>
<use href="#st" transform="translate(588.6 1597.8) scale(0.228)"/>
<use href="#st" transform="translate(602.5 1597.8) scale(0.228)"/>
<use href="#st" transform="translate(455.2 1604.2) scale(0.886)"/>
<use href="#st" transform="translate(538.2 1603.4) scale(0.557)"/>
<use href="#st" transform="translate(526.8 1605.4) scale(0.253)"/>
<use href="#st" transform="translate(623.5 1608.5) scale(0.228)"/>
<use href="#st" transform="translate(495.2 1612) scale(0.506)"/>
<use href="#st" transform="translate(420.5 1616.6) scale(0.253)"/>
<use href="#st" transform="translate(566.3 1617.8) scale(0.557)"/>
<use href="#st" transform="translate(706.1 1619.1) scale(0.253)"/>
<use href="#st" transform="translate(601.5 1625.4) scale(0.886)"/>
<use href="#st" transform="translate(678 1623.7) scale(0.557)"/>
<use href="#st" transform="translate(535.7 1627.7) scale(0.253)"/>
<use href="#st" transform="translate(454.2 1636.8) scale(0.557)"/>
<use href="#st" transform="translate(504.3 1637.8) scale(0.557)"/>
<use href="#st" transform="translate(517.2 1637.8) scale(0.557)"/>
<use href="#st" transform="translate(637 1635.8) scale(0.557)"/>
<use href="#st" transform="translate(548.4 1652) scale(0.557)"/>
<use href="#st" transform="translate(583.3 1650.3) scale(0.557)"/>
<use href="#st" transform="translate(574.2 1653.5) scale(0.253)"/>
<use href="#st" transform="translate(647.1 1651.5) scale(0.228)"/>
<use href="#st" transform="translate(433.4 1653.5) scale(0.557)"/>
<use href="#st" transform="translate(690.1 1655.1) scale(0.557)"/>
<use href="#st" transform="translate(477.2 1659.4) scale(0.557)"/>
<use href="#st" transform="translate(615.4 1667) scale(0.253)"/>
<use href="#st" transform="translate(444.1 1669.2) scale(0.557)"/>
<use href="#st" transform="translate(517.5 1675.3) scale(0.886)"/>
<use href="#st" transform="translate(602.8 1674.3) scale(0.886)"/>
<use href="#st" transform="translate(577.5 1678.6) scale(0.228)"/>
<use href="#st" transform="translate(350.4 1675.1) scale(0.253)"/>
<use href="#st" transform="translate(556.7 1682.7) scale(0.557)"/>
<use href="#st" transform="translate(648.4 1681.9) scale(0.557)"/>
<use href="#st" transform="translate(478.7 1683.7) scale(0.253)"/>
<use href="#st" transform="translate(705.3 1687) scale(0.228)"/>
<use href="#st" transform="translate(367.6 1691) scale(0.557)"/>
<use href="#st" transform="translate(674.2 1690.5) scale(0.886)"/>
<use href="#st" transform="translate(524.6 1694.8) scale(0.253)"/>
<use href="#st" transform="translate(488.4 1697.3) scale(0.253)"/>
<use href="#st" transform="translate(350.1 1704.2) scale(0.557)"/>
<use href="#st" transform="translate(393.4 1715.6) scale(0.253)"/>
<use href="#st" transform="translate(399 1719.4) scale(0.228)"/>
<use href="#st" transform="translate(424.3 1719.1) scale(0.557)"/>
<use href="#st" transform="translate(367.6 1725.4) scale(0.886)"/>
<use href="#st" transform="translate(452.2 1738.6) scale(0.253)"/>
<use href="#st" transform="translate(407.6 1744.9) scale(0.557)"/>
<use href="#st" transform="translate(376.5 1757.8) scale(0.253)"/>
</g>
<path d="M290.1 1809.2 L474.9 1754.6 L790.1 1764.2 L697.7 1794.6 L558.5 1856.6 Q406.6 1821.1 290.1 1809.2 Z" fill="#ed2025"/>
<path d="M290.1 1809.7 Q406.6 1821.6 558.5 1857.1 L558.5 1908.5 L291.4 1847.7 Z" fill="#fcfcfc"/>
<polygon points="558.5,1857.1 697.7,1795.1 790.1,1764.7 790.1,1805.4 560.5,1908.5" fill="#fcfcfc"/>
<polygon points="289.6,1809.7 291.6,1809.7 293.2,1846.5 558,1904.7 558,1911 290.6,1849.5" fill="#6b6b6d"/>
<polygon points="560.5,1904.7 788.4,1802.2 788.4,1764.2 791.1,1764.2 791.1,1806.5 560.5,1911.5" fill="#6b6b6d"/>
<ellipse cx="558.5" cy="1883.2" rx="4" ry="26" fill="#6b6b6d"/>
<path d="M474.9 1745.2 C480 1740.5 495.6 1729.2 507.8 1722.4 C520.1 1715.7 539.5 1708.5 548.4 1704.7 C557.2 1700.9 556.8 1699.6 561 1699.6 C565.2 1699.6 561.4 1702.6 573.7 1704.7 C585.9 1706.8 620.1 1708.9 634.4 1712.3 C648.8 1715.7 664.8 1717.3 659.7 1724.9 C654.7 1732.5 615 1749.8 604.1 1757.8 C593.1 1765.9 597.3 1769.5 593.9 1773 C590.5 1776.6 587.6 1780.2 583.8 1779.4 C580 1778.5 579.6 1770.7 571.1 1768 C562.7 1765.2 545.4 1765.4 533.2 1762.9 C520.9 1760.4 507 1754.9 497.7 1752.8 C488.4 1750.7 481.3 1751.5 477.5 1750.3 C473.7 1749 469.9 1749.8 474.9 1745.2 Z" fill="#fff" stroke="#fff" stroke-width="5"/>
<path d="M601.5 1759.1 C606.6 1754.4 624.7 1743.9 634.4 1737.6 C644.1 1731.3 653 1724.2 659.7 1721.1 C666.5 1718.1 669.3 1719.2 674.9 1719.4 C680.5 1719.5 683.6 1720.6 693.4 1721.9 C703.2 1723.2 722.5 1724.6 733.9 1727 C745.3 1729.3 753.3 1732.9 761.8 1735.8 C770.2 1738.8 779.4 1742.5 784.6 1744.7 C789.7 1746.9 792.2 1747.3 792.7 1749 C793.1 1750.7 790.5 1752.6 787.1 1755.1 C783.6 1757.5 778.6 1760.2 771.9 1763.8 C765.1 1767.4 755 1772.7 746.6 1776.5 C738.1 1780.3 726.8 1784.1 721.3 1786.6 C715.8 1789.1 716.2 1790.7 713.7 1791.5 C711.1 1792.3 709 1792.6 706.1 1791.5 C703.1 1790.5 705.8 1788.1 695.9 1785.2 C686.1 1782.3 662.4 1777.5 647.1 1774.3 C631.8 1771.1 611.6 1768.5 604.1 1765.9 C596.5 1763.4 596.5 1763.8 601.5 1759.1 Z" fill="#fff" stroke="#fff" stroke-width="5"/>
<path d="M659.7 1724.9 C650.5 1730.4 615 1749.8 604.1 1757.8 C593.1 1765.9 597.3 1769.5 593.9 1773 C590.5 1776.6 587.6 1780.2 583.8 1779.4 C580 1778.5 579.6 1770.7 571.1 1768 C562.7 1765.2 545.4 1765.4 533.2 1762.9 C520.9 1760.4 507 1754.9 497.7 1752.8 C488.4 1750.7 481.3 1751.5 477.5 1750.3 C473.7 1749 475.4 1746 474.9 1745.2" fill="none" stroke="#6b6b6d" stroke-width="1"/>
<path d="M792.7 1749 C791.7 1750 790.5 1752.6 787.1 1755.1 C783.6 1757.5 778.6 1760.2 771.9 1763.8 C765.1 1767.4 755 1772.7 746.6 1776.5 C738.1 1780.3 726.8 1784.1 721.3 1786.6 C715.8 1789.1 716.2 1790.7 713.7 1791.5 C711.1 1792.3 709 1792.6 706.1 1791.5 C703.1 1790.5 705.8 1788.1 695.9 1785.2 C686.1 1782.3 662.4 1777.5 647.1 1774.3 C631.8 1771.1 611.6 1768.5 604.1 1765.9 C596.5 1763.4 601.9 1760.3 601.5 1759.1" fill="none" stroke="#6b6b6d" stroke-width="1"/>
<path d="M597.7 1749.7 C598.1 1748.1 603.8 1738.8 609.1 1735.1 C614.4 1731.4 623.5 1728.3 629.4 1727.5 C635.3 1726.6 645.8 1728.5 644.6 1730 C643.3 1731.5 628.1 1733.8 621.8 1736.3 C615.4 1738.9 610.6 1743 606.6 1745.2 C602.6 1747.4 597.3 1751.4 597.7 1749.7 Z" fill="#6b6b6d"/>
<path d="M720 1770.5 C720.6 1768.8 727.6 1759.1 733.2 1755.3 C738.7 1751.5 747.7 1748.6 753.4 1747.7 C759.1 1746.8 768.6 1748.3 767.3 1749.7 C766.1 1751.2 752.2 1754 745.8 1756.6 C739.5 1759.2 733.7 1763.1 729.4 1765.4 C725.1 1767.8 719.4 1772.2 720 1770.5 Z" fill="#6b6b6d"/>
<polyline points="287.6,1869.2 561,1938.1 800.3,1818.6" fill="none" stroke="#ed2025" stroke-width="5.5" stroke-linejoin="miter"/>
<polyline points="320.5,1860.4 285.6,1868.2 300.8,1894.6" fill="none" stroke="#ed2025" stroke-width="4.5" stroke-linecap="round" stroke-linejoin="miter"/>
<polyline points="771.1,1818.6 802.3,1817.6 790.1,1850.3" fill="none" stroke="#ed2025" stroke-width="4.5" stroke-linecap="round" stroke-linejoin="miter"/>
<text x="806" y="1774" class="bed" font-size="75.5" textLength="338" lengthAdjust="spacingAndGlyphs">268 x 137</text>
</svg></body></html>
